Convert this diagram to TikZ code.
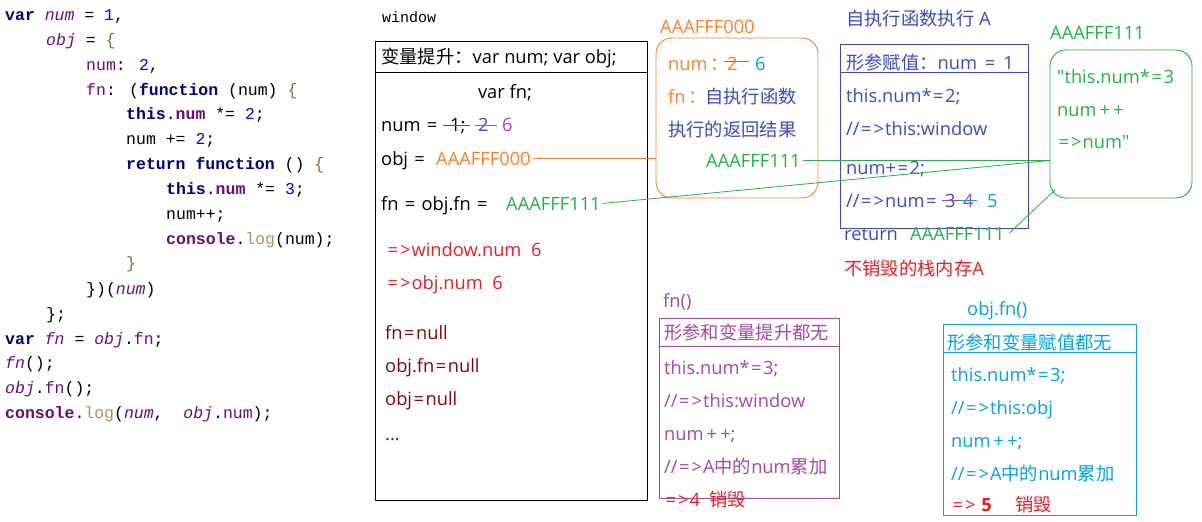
\documentclass[tikz,border=0pt]{standalone}
\usepackage{fontspec}
\setmainfont{Open Sans}
\newfontfamily\plainsans{Open Sans}
\newfontfamily\cjk{Noto Sans CJK SC}
\newfontfamily\codefont{Liberation Mono}
\definecolor{ckw}{HTML}{000080}
\definecolor{cvr}{HTML}{660E7A}
\definecolor{cnm}{HTML}{0000FF}
\definecolor{clg}{HTML}{A89560}
\definecolor{cbr}{HTML}{8A6A3A}
\definecolor{orng}{HTML}{FF7F27}
\definecolor{grn}{HTML}{22B14C}
\definecolor{indg}{HTML}{3F48CC}
\definecolor{purp}{HTML}{A349A4}
\definecolor{cyn}{HTML}{00A2E8}
\definecolor{rd}{HTML}{ED1C24}
\definecolor{drd}{HTML}{880015}
\newcommand{\ckw}[1]{\textcolor{ckw}{\bfseries #1}}
\newcommand{\cvi}[1]{\textcolor{cvr}{\itshape #1}}
\newcommand{\cpr}[1]{\textcolor{cvr}{#1}}
\newcommand{\cpb}[1]{\textcolor{cvr}{\bfseries #1}}
\newcommand{\cnm}[1]{\textcolor{cnm}{#1}}
\newcommand{\clg}[1]{\textcolor{clg}{#1}}
\newcommand{\cbr}[1]{\textcolor{cbr}{#1}}
\newcommand{\eqg}{\kern1.5pt=\kern2pt>\kern1pt}
\newcommand{\eqs}{\kern1.5pt=\kern1.5pt}
\newcommand{\dq}{{\plainsans "}}
\tikzset{
  code/.style={anchor=base west, inner sep=0pt, font=\codefont\fontsize{16.5}{16.5}\selectfont},
  mono/.style={anchor=base west, inner sep=0pt, font=\codefont\fontsize{15}{15}\selectfont},
  txt/.style={anchor=base west, inner sep=0pt, font=\fontsize{18.3}{18.3}\selectfont},
  box/.style={draw, inner sep=0pt, outer sep=0pt, line width=0.9pt},
  heapbox/.style={draw, inner sep=0pt, outer sep=0pt, line width=0.9pt, rounded corners=16pt},
  strike/.style={line width=0.9pt},
  link/.style={line width=0.8pt},
}
\begin{document}
\begin{tikzpicture}[x=1pt,y=-1pt]
\useasboundingbox (0,0) rectangle (1202,522);
\fill[white] (0,0) rectangle (1202,522);
% ---------- code ----------
\node[code] (c1) at (5,20) {\ckw{var} \cvi{num} = \cnm{1},};
\node[code] (c2) at (46,45) {\cvi{obj} = \cbr{\{}};
\node[code] (c3) at (86,70) {\cpr{num}: \cnm{2},};
\node[code] (c4) at (86,95) {\cpr{fn}: (\ckw{function} (num) \cbr{\{}};
\node[code] (c5) at (126,119) {\ckw{this}.\cpb{num} *= \cnm{2};};
\node[code] (c6) at (126,144) {num += \cnm{2};};
\node[code] (c7) at (126,169) {\ckw{return} \ckw{function} () \cbr{\{}};
\node[code] (c8) at (166,194) {\ckw{this}.\cpb{num} *= \cnm{3};};
\node[code] (c9) at (166,219) {num++;};
\node[code] (c10) at (166,244) {\cpb{console}.\clg{log}(num);};
\node[code] (c11) at (126,268) {\cbr{\}}};
\node[code] (c12) at (86,294) {\})(\cvi{num})};
\node[code] (c13) at (46,319) {\};};
\node[code] (c14) at (5,344) {\ckw{var} \cvi{fn} = \cvi{obj}.\cpr{fn};};
\node[code] (c15) at (5,368) {\cvi{fn}();};
\node[code] (c16) at (5,393) {\cvi{obj}.\cpr{fn}();};
\node[code] (c17) at (5,418) {\cpb{console}.\clg{log}(\cvi{num},~~\cvi{obj}.\cpr{num});};
% ---------- window ----------
\node[mono] (wlabel) at (382,22) {window};
\node[box, minimum width=272pt, minimum height=459pt] (winbox) at (511,270.5) {};
\draw[line width=0.9pt] (375,72) -- (647,72);
\node[txt] (hoist) at (381,63) {{\cjk 变量提升：}var num; var obj;};
\node[txt, anchor=base] (varfn) at (505,98) {var fn;};
\node[txt] (numA) at (381,131) {num \eqs};
\node[txt] (num1) at (450,131) {1;};
\node[txt, indg] (num2) at (478,131) {2};
\node[txt, purp] (num6) at (502,131) {6};
\draw[strike, indg] (443,125) -- (470,125);
\draw[strike, purp] (475,125) -- (497,125);
\node[txt] (objA) at (381,165) {obj \eqs};
\node[txt, orng] (objaddr) at (436,165) {AAAFFF000};
\node[txt] (fnA) at (381,210) {fn \eqs{} obj.fn \eqs};
\node[txt, grn] (fnaddr) at (506,210) {AAAFFF111};
\node[txt, rd] (r1) at (386,256) {\eqg window.num\ \ 6};
\node[txt, rd] (r2) at (386,289) {\eqg obj.num\ \ 6};
\node[txt, drd] (n1) at (385,339) {fn\eqs null};
\node[txt, drd] (n2) at (385,372) {obj.fn\eqs null};
\node[txt, drd] (n3) at (385,405) {obj\eqs null};
\node[txt, drd] (n4) at (385,440) {...};
% ---------- heap AAAFFF000 ----------
\node[txt, orng] (h0label) at (660,33) {AAAFFF000};
\node[heapbox, orng, minimum width=162pt, minimum height=160pt] (heap0) at (737,118) {};
\node[txt, orng] (h0a) at (668,70) {num\,{\cjk ：}};
\node[txt, orng] (h0b) at (727,70) {2};
\node[txt, cyn] (h0c) at (755,70) {6};
\draw[strike, cyn] (724,61) -- (749,61);
\node[txt, orng] (h0d) at (668,103) {fn\,{\cjk ：}};
\node[txt, indg] (h0e) at (705,103) {\cjk 自执行函数};
\node[txt, indg] (h0f) at (668,136) {\cjk 执行的返回结果};
\node[txt, grn] (h0addr) at (706,167) {AAAFFF111};
% ---------- scope A ----------
\node[txt, indg] (atitle) at (846,25) {{\cjk 自执行函数执行} A};
\node[box, indg, minimum width=188pt, minimum height=184pt] (abox) at (934,136) {};
\draw[line width=0.9pt, indg] (840,72) -- (1028,72);
\node[txt, indg] (a0) at (846,69) {{\cjk 形参赋值：}num \,=\, 1};
\node[txt, indg] (a1) at (846,102) {this.num*\eqs 2;};
\node[txt, indg] (a2) at (846,135) {//\eqg this:window};
\node[txt, indg] (a3) at (846,174) {num+\eqs 2;};
\node[txt, indg] (a4) at (846,207) {//\eqg num\eqs};
\node[txt, indg] (a5) at (945,207) {3};
\node[txt, purp] (a6) at (963,207) {4};
\node[txt, cyn] (a7) at (987,207) {5};
\draw[strike, purp] (942,200) -- (961,200);
\draw[strike, cyn] (961,200) -- (977,200);
\node[txt, indg] (a8) at (844,240) {return};
\node[txt, grn] (retaddr) at (910,240) {AAAFFF111};
\node[txt, rd] (a9) at (844,275) {{\cjk 不销毁的栈内存}A};
% ---------- heap AAAFFF111 ----------
\node[txt, grn] (h1label) at (1050,39) {AAAFFF111};
\node[heapbox, grn, minimum width=142pt, minimum height=148pt] (heap1) at (1121,124) {};
\node[txt, grn] (h1a) at (1057,83) {\dq this.num*\eqs 3};
\node[txt, grn] (h1b) at (1057,116) {num\,+\,+};
\node[txt, grn] (h1c) at (1057,148) {\eqg num\dq};
% ---------- fn() ----------
\node[txt, purp] (flabel) at (663,307) {fn()};
\node[box, purp, minimum width=180pt, minimum height=180pt] (fbox) at (749,408) {};
\draw[line width=0.9pt, purp] (659,346) -- (839,346);
\node[txt, purp] (f0) at (664,339) {\cjk 形参和变量提升都无};
\node[txt, purp] (f1) at (664,374) {this.num*\eqs 3;};
\node[txt, purp] (f2) at (664,407) {//\eqg this:window};
\node[txt, purp] (f3) at (664,440) {num\,+\,+;};
\node[txt, purp] (f4) at (664,473) {//\eqg A{\cjk 中的}num{\cjk 累加}};
\node[txt, rd] (f5) at (664,506) {\eqg 4\ \ {\cjk 销毁}};
% ---------- obj.fn() ----------
\node[txt, cyn] (olabel) at (967,315) {obj.fn()};
\node[box, cyn, minimum width=193pt, minimum height=191pt] (obox) at (1039.5,419.5) {};
\draw[line width=0.9pt, cyn] (943,352) -- (1136,352);
\node[txt, cyn] (o0) at (947,349) {\cjk 形参和变量赋值都无};
\node[txt, cyn] (o1) at (951,381) {this.num*\eqs 3;};
\node[txt, cyn] (o2) at (951,414) {//\eqg this:obj};
\node[txt, cyn] (o3) at (951,447) {num\,+\,+;};
\node[txt, cyn] (o4) at (951,480) {//\eqg A{\cjk 中的}num{\cjk 累加}};
\node[txt, rd] (o5) at (951,511) {\eqg\ \textbf{5}\ \ \ \ \ {\cjk 销毁}};
% ---------- connectors ----------
\coordinate (h1in) at (heap1.west |- h0addr.east);
\draw[link, orng] ([xshift=2pt]objaddr.east) -- (objaddr.east -| heap0.west);
\draw[link, grn] ([xshift=2pt]h0addr.east) -- (h1in);
\draw[link, grn] ([xshift=2pt]fnaddr.east) -- (h1in);
\draw[link, grn] ([xshift=4pt]retaddr.east) -- ([shift={(5,-8)}]heap1.south west);
\end{tikzpicture}
\end{document}
